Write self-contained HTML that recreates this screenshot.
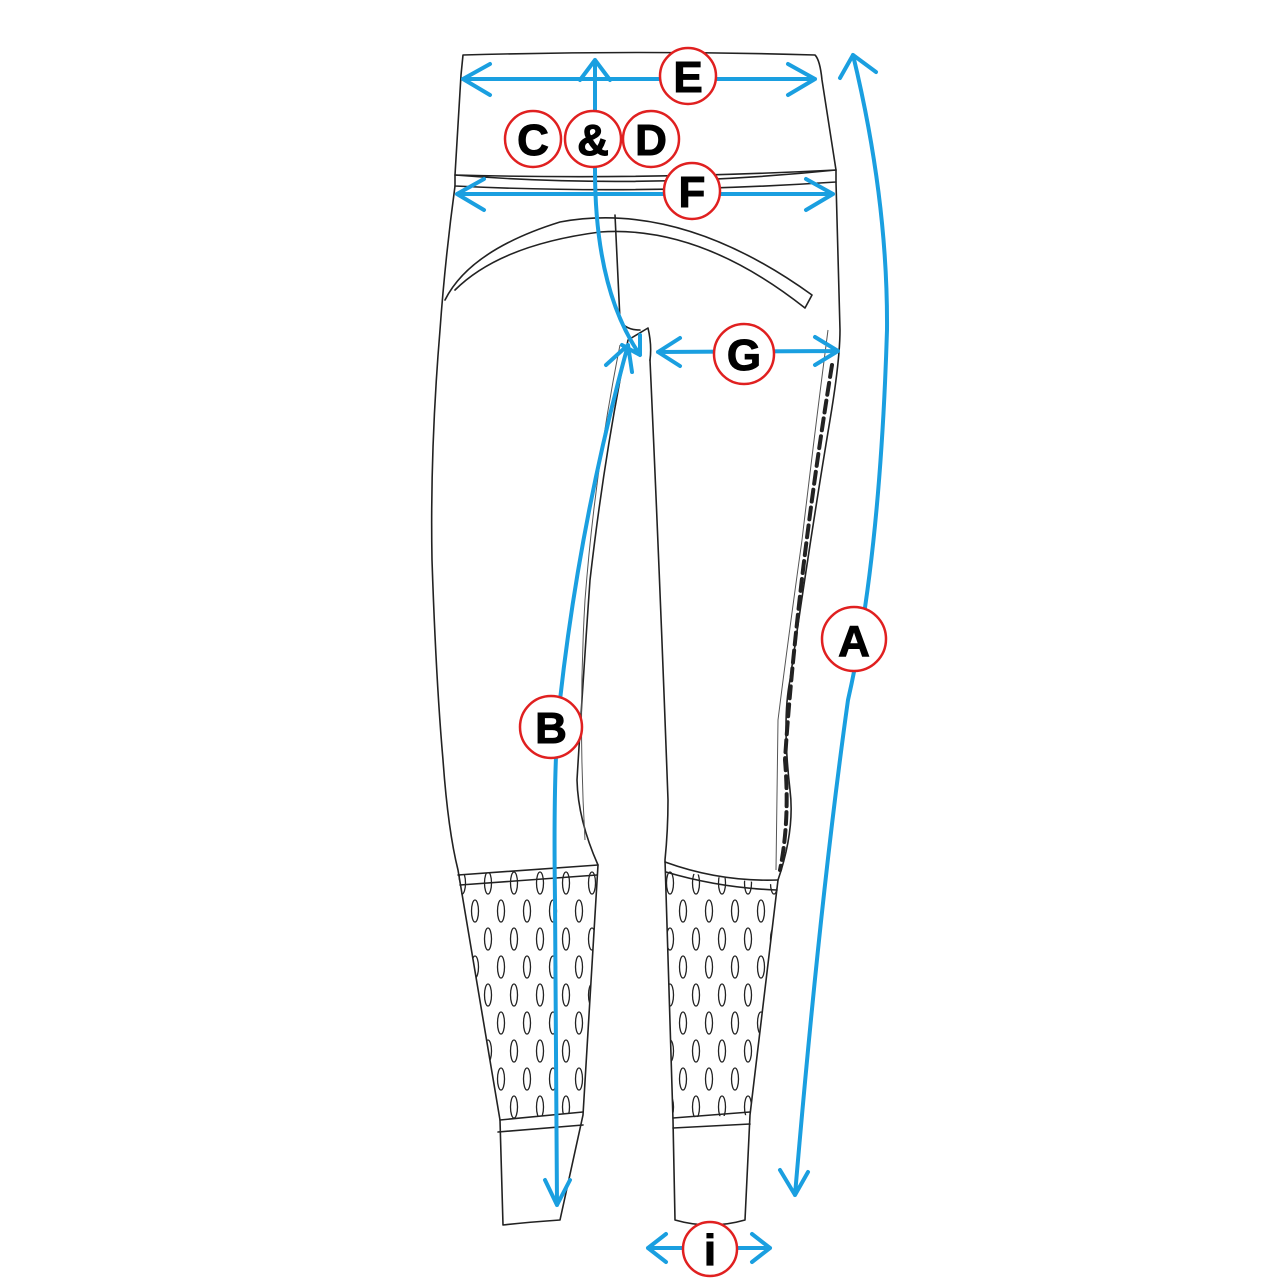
<!DOCTYPE html>
<html><head><style>
html,body{margin:0;padding:0;background:#fff;width:1280px;height:1280px;overflow:hidden}
svg{display:block}
.o{fill:none;stroke:#222;stroke-width:1.6;stroke-linejoin:round;stroke-linecap:round}
.t{fill:none;stroke:#555;stroke-width:1}
.b{fill:none;stroke:#1a9fe0;stroke-width:4;stroke-linecap:round;stroke-linejoin:round}
.c{fill:#fff;stroke:#e02020;stroke-width:2.5}
.l{font-family:"Liberation Sans",sans-serif;font-weight:bold;font-size:44px;fill:#000;text-anchor:middle;stroke:#000;stroke-width:1}
</style></head><body>
<svg width="1280" height="1280" viewBox="0 0 1280 1280">
<defs>
<pattern id="m" width="26" height="56" patternUnits="userSpaceOnUse">
<ellipse cx="7" cy="15" rx="3.5" ry="11" class="o" style="stroke-width:1.3"/>
<ellipse cx="20" cy="43" rx="3.5" ry="11" class="o" style="stroke-width:1.3"/>
</pattern>
</defs>
<path class="o" d="M463,55 Q640,50 815,55 Q820,60 822,80 L836,170 Q640,180 455,175 L461,75 Z"/>
<path class="o" d="M455,175 Q640,190 836,170 L836,182 Q640,195 455,186 Z"/>
<path class="o" d="M445,300 Q470,250 560,222 Q680,200 812,295 L805,308 Q700,225 600,232 Q500,245 455,290"/>
<path class="o" d="M615,215 L620,320 Q625,330 640,330"/>
<path class="o" d="M455,186 Q445,260 440,330 Q430,450 432,560 Q436,680 443,760 Q448,830 458,870 L500,1120 L503,1225 Q530,1222 560,1220 L583,1115 L598,865 Q578,820 577,780 Q583,680 590,580 Q605,450 628,340 L648,328 Q652,345 650,360"/>
<path class="t" d="M620,345 Q595,470 585,600 Q578,720 585,840"/>
<path class="o" d="M650,360 Q660,580 668,800 Q668,830 665,860 L673,1120 L675,1220 Q710,1230 745,1220 L750,1115 L778,880 Q795,830 790,790 Q782,720 790,680 Q810,540 830,420 Q840,360 840,330 L836,182"/>
<path class="t" d="M828,330 Q815,430 802,540 Q788,640 778,720 L776,870"/>
<path class="o" style="stroke-width:4;stroke-dasharray:12 6" d="M832,365 Q815,470 803,570 Q790,680 785,760 Q790,820 780,870"/>
<path d="M458,875 Q530,870 598,865 L583,1112 L500,1120 Z" fill="url(#m)"/>
<path class="o" d="M458,875 Q530,870 598,865 M460,885 Q530,880 597,875"/>
<path class="o" d="M500,1120 L583,1112 M498,1132 L583,1125"/>
<path d="M665,870 L777,885 L750,1115 L673,1118 Z" fill="url(#m)"/>
<path class="o" d="M665,862 Q720,882 778,880 M666,872 Q720,888 777,890"/>
<path class="o" d="M673,1118 L750,1112 M673,1128 L750,1124"/>
<path class="b" d="M463,79 L815,79 M490,64 L463,79 L490,95 M788,64 L815,79 L788,95"/>
<path class="b" d="M595,60 L595,170 Q595,290 640,355 M580,80 L595,60 L610,80 M622,345 L640,355 L640,335"/>
<path class="b" d="M457,194 L833,194 M484,179 L457,194 L484,210 M806,179 L833,194 L806,210"/>
<path class="b" d="M658,352 L838,351 M680,338 L658,352 L680,366 M815,337 L838,351 L815,365"/>
<path class="b" d="M628,345 Q580,520 560,700 Q553,760 555,900 L557,1205 M606,365 L628,345 L632,372 M545,1180 L557,1205 L570,1180"/>
<path class="b" d="M853,55 Q888,200 887,330 Q880,560 848,700 Q820,900 795,1195 M840,78 L853,55 L876,72 M780,1170 L795,1195 L808,1172"/>
<path class="b" d="M648,1248 L770,1248 M666,1234 L648,1248 L666,1262 M752,1234 L770,1248 L752,1262"/>
<circle class="c" cx="688" cy="76" r="28"/><text class="l" x="688" y="92">E</text>
<circle class="c" cx="533" cy="139" r="28"/><text class="l" x="533" y="155">C</text>
<circle class="c" cx="593" cy="139" r="28"/><text class="l" x="593" y="155">&amp;</text>
<circle class="c" cx="651" cy="139" r="28"/><text class="l" x="651" y="155">D</text>
<circle class="c" cx="692" cy="191" r="28"/><text class="l" x="692" y="207">F</text>
<circle class="c" cx="744" cy="354" r="30"/><text class="l" x="744" y="370">G</text>
<circle class="c" cx="854" cy="639" r="32"/><text class="l" x="854" y="656">A</text>
<circle class="c" cx="551" cy="727" r="31"/><text class="l" x="551" y="743">B</text>
<circle class="c" cx="710" cy="1249" r="27"/><text class="l" x="710" y="1265">i</text>
</svg>
</body></html>
